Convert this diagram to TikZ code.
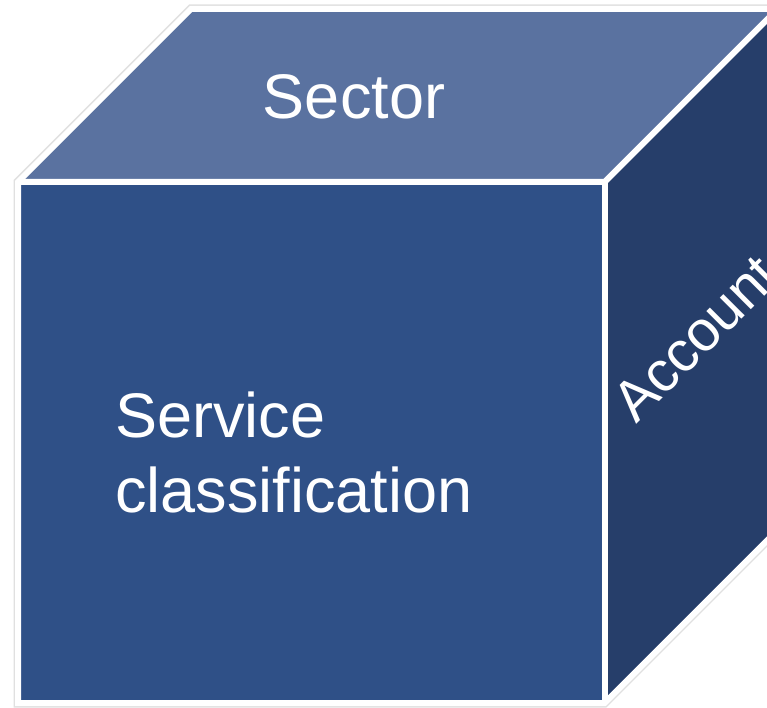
\documentclass[tikz,border=0pt]{standalone}
\usepackage{fontspec}
\setmainfont{Liberation Sans}
\definecolor{topc}{HTML}{5A72A0}
\definecolor{frontc}{HTML}{2F5087}
\definecolor{sidec}{HTML}{263E6A}
\begin{document}
\begin{tikzpicture}[x=1pt,y=-1pt,
  facetxt/.style={text=white, inner sep=0pt, font=\fontsize{63}{75}\selectfont},
  edge/.style={draw=white, line width=6pt, line join=miter}]
\useasboundingbox (0,0) rectangle (767,708);
\clip (0,0) rectangle (767,708);
\coordinate (FTL) at (18,182);
\coordinate (FTR) at (604.5,182);
\coordinate (FBR) at (604.5,703);
\coordinate (FBL) at (18,703);
\coordinate (BTL) at (191,9);
\coordinate (BTR) at (777.5,9);
\coordinate (BBR) at (777.5,530);
% soft shadow
\draw[black!12, line width=9pt, line join=miter, shift={(1,1.5)}] (FBL) -- (FTL) -- (BTL) -- (BTR) -- (BBR) -- (FBR) -- cycle;
% faces
\fill[topc] (FTL) -- (BTL) -- (BTR) -- (FTR) -- cycle;
\fill[sidec] (FTR) -- (BTR) -- (BBR) -- (FBR) -- cycle;
\fill[frontc] (FTL) -- (FTR) -- (FBR) -- (FBL) -- cycle;
% edges
\draw[edge] (FBL) -- (FTL) -- (BTL) -- (BTR) -- (BBR) -- (FBR) -- cycle;
\draw[edge] (FTL) -- (FTR) -- (BTR);
\draw[edge] (FTR) -- (FBR);
% labels
\node[facetxt, anchor=base] (sector) at (354,119) {Sector};
\node[facetxt, anchor=base west] (service) at (115,437) {Service};
\node[facetxt, anchor=base west] (classification) at (115,512) {classification};
\node[facetxt, font=\fontsize{57}{68}\selectfont, anchor=base west, rotate=45] (account) at (636,425) {Account};
\end{tikzpicture}
\end{document}
